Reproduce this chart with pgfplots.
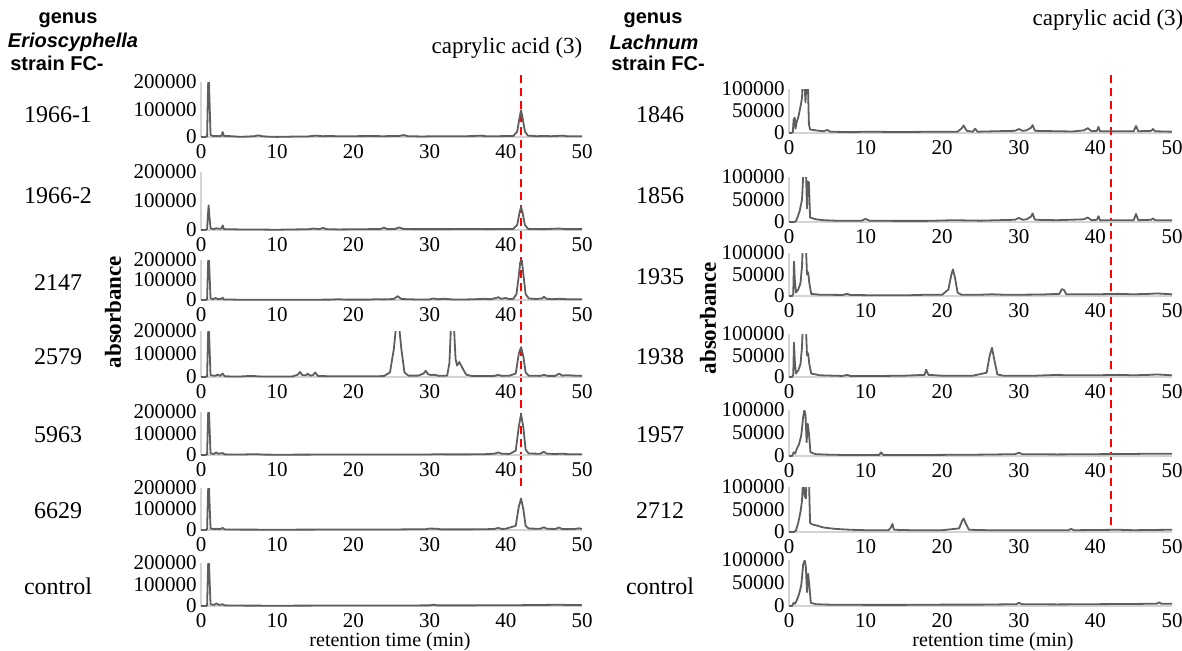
\documentclass[border=0pt]{standalone}
\usepackage{pgfplots}
\pgfplotsset{compat=1.18}
\usepackage{fontspec}
\setmainfont{Liberation Serif}
\newfontfamily\sansb{Liberation Sans}
\definecolor{curve}{HTML}{5E5E5E}
\definecolor{axgray}{HTML}{D4D4D4}
\pgfplotsset{
  panel/.style={
    scale only axis, anchor=south west,
    xmin=0, xmax=50, ymin=0,
    axis x line=bottom, axis y line=left,
    axis line style={-, draw=axgray, line width=0.75pt},
    major tick length=0pt,
    xtick={0,10,20,30,40,50},
    xticklabels={0,10,20,30,40,50},
    scaled y ticks=false,
    tick label style={font=\fontsize{10.5}{10.5}\selectfont},
    /pgf/number format/assume math mode=true,
    xticklabel style={inner sep=1pt, yshift=-2.5pt},
    yticklabel style={inner sep=2pt},
    clip mode=individual,
  },
  lpanel/.style={panel, width=190.5pt, ymax=200000, ytick={0,100000,200000}, yticklabels={0,100000,200000}},
  rpanel/.style={panel, width=191.5pt, ymax=100000, ytick={0,50000,100000}, yticklabels={0,50000,100000}},
  trace/.style={color=curve, line width=0.9pt, no markers, line join=round},
}
\begin{document}
\begin{tikzpicture}
\useasboundingbox (0,0) rectangle (591pt,-325pt);

% ---------------- left column: Erioscyphella ----------------
\begin{axis}[lpanel, at={(100.5pt,-68.5pt)}, height=27.5pt]
\draw[red, dashed, line width=0.9pt, dash pattern=on 4pt off 2.5pt] (axis cs:42,225000) -- (axis cs:42,-1283000);
\addplot[trace] coordinates {(0,0)(0.5,0)(0.8,2000)(0.9,150000)(1.0,260000)(1.1,150000)(1.25,8000)(1.6,3000)(2,4000)(2.5,3000)(2.7,5000)(2.85,18000)(3.0,4000)(4,3000)(5,1000)(6,1500)(7,3000)(7.5,6000)(8,3000)(9,1000)(10,500)(12,1500)(14,2000)(15,5000)(16,3000)(17,4000)(18,2500)(20,3000)(22,3500)(24,3000)(26,4000)(26.6,7000)(27.2,3000)(29,2000)(31,3000)(33,2500)(35,3000)(36.8,5000)(37.5,2500)(39,3000)(40,3500)(41,4000)(41.5,20000)(41.8,70000)(42,97000)(42.2,70000)(42.5,20000)(42.9,5000)(44,3000)(45,3500)(46,3000)(47.5,5000)(48,3000)(50,3000)};
\end{axis}

\begin{axis}[lpanel, at={(100.5pt,-115pt)}, height=29pt]
\addplot[trace] coordinates {(0,0)(0.5,0)(0.8,2000)(0.9,50000)(1.0,85000)(1.1,50000)(1.25,6000)(1.7,3000)(2,6000)(2.5,4000)(2.7,6000)(2.85,16000)(3.0,3000)(5,2000)(8,1500)(10,1000)(12,2000)(14,2500)(14.8,5000)(15.5,3000)(16,7000)(16.5,3000)(18,2000)(20,2500)(22,3000)(23.5,3000)(24,8000)(24.5,3000)(25.5,4000)(26,9000)(26.5,4000)(28,3000)(30,3000)(32,3000)(35,3500)(38,3000)(40,3500)(41,4000)(41.5,18000)(41.8,60000)(42,80000)(42.2,60000)(42.5,18000)(42.9,4000)(45,3000)(47,5000)(48,3000)(50,3000)};
\end{axis}

\begin{axis}[lpanel, at={(100.5pt,-150pt)}, height=20pt]
\addplot[trace] coordinates {(0,0)(0.5,0)(0.8,2000)(0.9,150000)(1.0,260000)(1.1,150000)(1.25,8000)(1.6,4000)(1.9,10000)(2.2,5000)(2.7,6000)(2.85,12000)(3.0,3000)(5,1500)(8,1000)(10,1000)(14,1500)(17,2000)(18,4000)(19,2000)(22,2000)(23,4000)(24,3000)(25.3,5000)(25.8,19000)(26.3,5000)(28,3000)(30,3000)(30.5,8000)(31,4000)(32,6000)(33,3000)(35,3000)(36,4000)(37,6000)(38,4000)(38.7,10000)(39,14000)(39.4,6000)(40,10000)(40.4,5000)(41,6000)(41.4,30000)(41.7,120000)(41.9,190000)(42.1,200000)(42.3,130000)(42.6,30000)(43,8000)(44,5000)(44.8,8000)(45,17000)(45.3,7000)(46,4000)(47,6000)(48,4000)(50,4000)};
\end{axis}

\begin{axis}[lpanel, at={(100.5pt,-188.5pt)}, height=23pt]
\addplot[trace] coordinates {(0,0)(0.5,0)(0.8,2000)(0.9,150000)(1.0,260000)(1.1,150000)(1.25,8000)(1.8,5000)(2.2,10000)(2.5,5000)(2.85,15000)(3.1,3000)(5,2000)(6,4000)(7,4000)(8,2000)(10,2000)(12,2500)(12.7,10000)(13,22000)(13.3,8000)(13.8,8000)(14,15000)(14.3,6000)(14.7,8000)(15,20000)(15.3,5000)(17,3000)(20,3000)(23,3500)(24,4000)(24.8,20000)(25.3,120000)(25.6,220000)(26,220000)(26.3,120000)(26.7,20000)(27.2,6000)(28.5,6000)(29.2,15000)(29.5,27000)(29.8,12000)(30.3,8000)(30.6,10000)(31.2,5000)(32.3,6000)(32.6,60000)(32.8,220000)(33.2,220000)(33.4,80000)(33.6,50000)(33.9,65000)(34.3,40000)(34.8,10000)(35.5,5000)(37,4000)(38.5,5000)(39,9000)(39.5,5000)(40.5,6000)(41.3,15000)(41.7,100000)(42,130000)(42.3,90000)(42.6,20000)(43,6000)(44.5,5000)(45,9000)(45.5,5000)(46.5,5000)(47,15000)(47.4,6000)(48,8000)(49,6000)(50,5000)};
\end{axis}

\begin{axis}[lpanel, at={(100.5pt,-227.5pt)}, height=21.5pt]
\addplot[trace] coordinates {(0,0)(0.5,0)(0.8,2000)(0.9,150000)(1.0,260000)(1.1,150000)(1.25,8000)(1.7,5000)(2.0,12000)(2.3,6000)(2.85,9000)(3.1,3000)(5,2000)(6,3000)(7.5,4000)(8,2000)(10,1500)(15,2000)(20,2000)(25,2000)(30,2500)(31,4000)(32,3000)(35,3000)(37,3500)(38.5,6000)(39,12000)(39.5,6000)(40.5,5000)(41.3,20000)(41.7,130000)(42,190000)(42.3,130000)(42.6,25000)(43,7000)(44.5,6000)(45,15000)(45.4,6000)(46.5,5000)(47.5,6000)(48,4000)(50,4000)};
\end{axis}

\begin{axis}[lpanel, at={(100.5pt,-265pt)}, height=21pt]
\addplot[trace] coordinates {(0,0)(0.5,0)(0.8,2000)(0.9,150000)(1.0,260000)(1.1,150000)(1.25,8000)(1.7,4000)(2.0,6000)(2.5,4000)(2.85,10000)(3.1,3000)(5,2000)(10,1500)(15,2000)(20,2000)(25,2500)(29.5,4000)(30,7000)(31,6000)(31.5,3000)(35,3000)(37,3500)(38.5,5000)(39,10000)(39.5,5000)(40,6000)(41.3,20000)(41.7,110000)(42,150000)(42.3,100000)(42.6,20000)(43,7000)(44.5,6000)(45,13000)(45.4,6000)(46.5,5000)(47,12000)(47.4,5000)(49,5000)(49.6,8000)(50,5000)};
\end{axis}

\begin{axis}[lpanel, at={(100.5pt,-303pt)}, height=21.5pt]
\addplot[trace] coordinates {(0,0)(0.5,0)(0.8,2000)(0.9,150000)(1.0,260000)(1.1,150000)(1.25,8000)(1.7,5000)(2.0,12000)(2.4,5000)(2.8,8000)(3.1,3000)(5,2000)(10,1500)(15,2000)(20,2000)(25,2500)(30,3000)(30.5,6000)(31,3000)(35,3000)(40,3500)(42,4000)(45,5000)(47,6000)(48,5000)(50,4000)};
\end{axis}

% ---------------- right column: Lachnum ----------------
\begin{axis}[rpanel, at={(394.5pt,-66.5pt)}, height=22pt]
\draw[red, dashed, line width=0.9pt, dash pattern=on 4pt off 2.5pt] (axis cs:42,131800) -- (axis cs:42,-895000);
\addplot[trace] coordinates {(0,0)(0.3,0)(0.5,2000)(0.6,30000)(0.75,35000)(0.85,10000)(1.0,25000)(1.2,35000)(1.5,60000)(1.7,80000)(1.8,120000)(2.0,120000)(2.15,70000)(2.3,120000)(2.45,120000)(2.6,20000)(2.75,8000)(3.5,6000)(4.5,4000)(5,7000)(5.4,3000)(8,2000)(10,3000)(13,2500)(16,2500)(20,3000)(22,3000)(22.5,10000)(22.8,17000)(23.2,5000)(24,3000)(24.3,10000)(24.6,3000)(27,4000)(29.5,5000)(30,9000)(30.5,5000)(31,6000)(31.6,12000)(31.8,18000)(32.1,5000)(35,4000)(37,3500)(38.5,6000)(39,11000)(39.5,4000)(40.2,5000)(40.4,14000)(40.6,4000)(43,4000)(45,4000)(45.3,16000)(45.6,4000)(47.3,5000)(47.5,9000)(47.8,4000)(50,3000)};
\end{axis}

\begin{axis}[rpanel, at={(394.5pt,-111pt)}, height=22.5pt]
\addplot[trace] coordinates {(0,0)(0.7,0)(0.9,2000)(1.1,10000)(1.4,25000)(1.7,50000)(1.9,120000)(2.2,120000)(2.35,30000)(2.45,90000)(2.6,88000)(2.75,10000)(3.5,6000)(4.5,4000)(6,3000)(9.5,3000)(10,7000)(10.5,3000)(14,2500)(18,2500)(21.5,4000)(25,3000)(29.5,5000)(30,9000)(30.5,5000)(31,6000)(31.6,12000)(31.8,19000)(32.1,5000)(35,4000)(38.5,6000)(39,10000)(39.5,4000)(40.2,5000)(40.4,13000)(40.6,4000)(43,4000)(45,4000)(45.3,18000)(45.6,4000)(47.3,5000)(47.5,8000)(47.8,4000)(50,4000)};
\end{axis}

\begin{axis}[rpanel, at={(394.5pt,-148pt)}, height=21.5pt]
\addplot[trace] coordinates {(0,0)(0.4,0)(0.55,5000)(0.65,80000)(0.75,40000)(0.9,8000)(1.2,15000)(1.5,30000)(1.7,70000)(1.8,120000)(2.2,120000)(2.35,50000)(2.5,55000)(2.65,30000)(2.9,5000)(4,3000)(7,2500)(7.6,5000)(8,2500)(10,2000)(12,2000)(16,2000)(18,3000)(20,3000)(20.8,15000)(21.2,50000)(21.4,62000)(21.7,40000)(22,8000)(22.5,3000)(25,3000)(26.5,4000)(28,3000)(30,3000)(33,3500)(35.3,5000)(35.6,16000)(35.9,14000)(36.2,4000)(40,4000)(43,5000)(45,4000)(47,5000)(48,6000)(50,4000)};
\end{axis}

\begin{axis}[rpanel, at={(394.5pt,-188.5pt)}, height=21.5pt]
\addplot[trace] coordinates {(0,0)(0.4,0)(0.55,5000)(0.65,80000)(0.75,40000)(0.9,8000)(1.2,15000)(1.5,30000)(1.7,70000)(1.8,120000)(2.2,120000)(2.35,50000)(2.5,55000)(2.65,30000)(2.9,8000)(3.5,6000)(4,4000)(7,2500)(7.6,5000)(8,2500)(12,2500)(15,3000)(17.7,5000)(17.9,17000)(18.2,5000)(20,3000)(24,3000)(25.8,10000)(26.2,50000)(26.5,68000)(26.8,40000)(27.2,6000)(28,3000)(32,3000)(35.2,5000)(36,4000)(40,4000)(43,5000)(45,4000)(47,5000)(48,6000)(50,4000)};
\end{axis}

\begin{axis}[rpanel, at={(394.5pt,-228pt)}, height=23pt]
\addplot[trace] coordinates {(0,0)(0.4,0)(0.6,8000)(0.8,5000)(1.0,15000)(1.3,25000)(1.6,45000)(1.85,85000)(2.0,100000)(2.15,90000)(2.3,30000)(2.45,70000)(2.6,50000)(2.8,8000)(3.5,4000)(5,3000)(8,2000)(11.8,2500)(12,8000)(12.3,2500)(16,2000)(20,2500)(25,3000)(29.5,4000)(30,7000)(30.5,4000)(35,3500)(40,4000)(45,4500)(47,5000)(50,5000)};
\end{axis}

\begin{axis}[rpanel, at={(394.5pt,-266pt)}, height=22.5pt]
\addplot[trace] coordinates {(0,0)(0.6,0)(0.9,3000)(1.2,20000)(1.5,45000)(1.7,70000)(1.85,120000)(2.05,80000)(2.2,75000)(2.3,120000)(2.6,120000)(2.75,20000)(3.0,17000)(3.5,15000)(4.5,10000)(6,7000)(8,5000)(10,4000)(13,4000)(13.3,10000)(13.5,18000)(13.7,5000)(16,4000)(20,4000)(22.2,8000)(22.6,25000)(22.8,30000)(23.1,18000)(23.5,5000)(26,4000)(30,4000)(36.5,4000)(36.8,7000)(37.2,4000)(40,4500)(43,5000)(45,4000)(47,4500)(50,5000)};
\end{axis}

\begin{axis}[rpanel, at={(394.5pt,-303pt)}, height=23pt]
\addplot[trace] coordinates {(0,0)(0.4,0)(0.6,7000)(0.8,5000)(1.0,12000)(1.3,25000)(1.6,45000)(1.85,90000)(2.05,100000)(2.2,85000)(2.35,30000)(2.5,70000)(2.65,45000)(2.85,7000)(3.5,4000)(5,3000)(10,2500)(15,2500)(20,3000)(25,3000)(29.7,4000)(30,7000)(30.4,4000)(35,3500)(40,4000)(45,4500)(48,5000)(48.3,8000)(48.6,5000)(50,5000)};
\end{axis}

% ---------------- text ----------------
\begin{scope}[every node/.style={inner sep=0pt}]
\node[font=\sansb\bfseries\fontsize{10}{10}\selectfont] at (34pt,-10pt) {genus};
\node[font=\sansb\bfseries\itshape\fontsize{10}{10}\selectfont] at (36.5pt,-21pt) {Erioscyphella};
\node[font=\sansb\bfseries\fontsize{10}{10}\selectfont] at (28.5pt,-31.5pt) {strain FC-};
\node[font=\sansb\bfseries\fontsize{10}{10}\selectfont] at (326.5pt,-10pt) {genus};
\node[font=\sansb\bfseries\itshape\fontsize{10}{10}\selectfont] at (327pt,-21pt) {Lachnum};
\node[font=\sansb\bfseries\fontsize{10}{10}\selectfont] at (329pt,-31.5pt) {strain FC-};

\node[font=\fontsize{11.5}{12}\selectfont] at (253.5pt,-24pt) {caprylic acid (3)};
\node[font=\fontsize{11.5}{12}\selectfont] at (554pt,-10pt) {caprylic acid (3)};

\foreach \t/\y in {1966-1/57.5, 1966-2/98, 2147/141.5, 2579/178.5, 5963/217.5, 6629/255.5, control/293}
  \node[font=\fontsize{12}{12}\selectfont] at (29pt,-\y pt) {\t};
\foreach \t/\y in {1846/57.5, 1856/98, 1935/138.5, 1938/178.5, 1957/217.5, 2712/255.5, control/293}
  \node[font=\fontsize{12}{12}\selectfont] at (330pt,-\y pt) {\t};

\node[font=\bfseries\fontsize{11.5}{12}\selectfont, rotate=90] at (56.5pt,-156pt) {absorbance};
\node[font=\bfseries\fontsize{11.5}{12}\selectfont, rotate=90] at (354pt,-159pt) {absorbance};

\node[font=\fontsize{10}{10}\selectfont] at (195pt,-321pt) {retention time (min)};
\node[font=\fontsize{10}{10}\selectfont] at (496.5pt,-321pt) {retention time (min)};
\end{scope}
\end{tikzpicture}
\end{document}
